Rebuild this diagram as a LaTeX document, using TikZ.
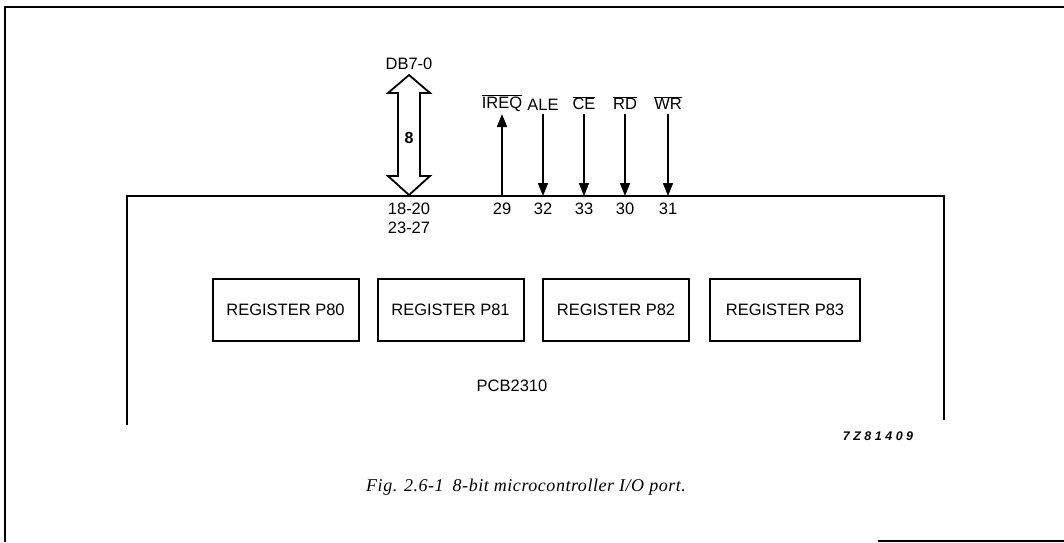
\documentclass[tikz,border=0pt]{standalone}
\usepackage{fontspec}
\setmainfont{Liberation Sans}
\newfontfamily\capfont{Liberation Serif}
\usetikzlibrary{arrows.meta}
\tikzset{
  frame/.style={line width=2.2pt},
  chip/.style={line width=2.6pt},
  regbox/.style={draw,line width=2pt,minimum width=146pt,minimum height=62pt,inner sep=0pt,font=\fontsize{16.5}{18}\selectfont},
  lbl/.style={font=\fontsize{16.5}{18}\selectfont,inner sep=0pt},
  sig/.style={line width=1.7pt,-{Triangle[length=13pt,width=10pt]}}
}
\newcommand{\ovl}[1]{$\overline{\mbox{#1}}$}
\begin{document}
\begin{tikzpicture}[x=1pt,y=-1pt]
\useasboundingbox (0,0) rectangle (1064,542);
% outer frame
\draw[frame] (1064,7) -- (5,7) -- (5,542);
\draw[frame] (878,541) -- (1064,541);
% chip outline
\draw[chip] (127,425) -- (127,196) -- (944,196) -- (944,420);
% registers
\node[regbox] (r0) at (285.5,309.5) {REGISTER P80};
\node[regbox] (r1) at (450.5,309.5) {REGISTER P81};
\node[regbox] (r2) at (616,309.5) {REGISTER P82};
\node[regbox,minimum width=150pt] (r3) at (785,309.5) {REGISTER P83};
\node[lbl] (chipname) at (512,386) {PCB2310};
\node[inner sep=0pt,font=\fontsize{12.5}{14}\selectfont\bfseries\itshape\addfontfeature{LetterSpace=28}] (code) at (878,436) {7Z81409};
% data bus double arrow
\draw[line width=1.8pt,fill=white,line join=miter]
  (409,75) -- (430,93) -- (420,93) -- (420,176) -- (430,176) -- (409,195)
  -- (388,176) -- (398,176) -- (398,93) -- (388,93) -- cycle;
\node[lbl] (db) at (409,64) {DB7-0};
\node[lbl,font=\fontsize{16}{18}\selectfont\bfseries] (w8) at (409,138) {8};
\node[lbl] (p1) at (409,209) {18-20};
\node[lbl] (p2) at (409,228) {23-27};
% control signals
\coordinate (ireqB) at (502,196);
\coordinate (ireqT) at (502,114);
\coordinate (aleT) at (543,114);
\coordinate (aleB) at (543,196);
\coordinate (ceT) at (584,114);
\coordinate (ceB) at (584,196);
\coordinate (rdT) at (625,114);
\coordinate (rdB) at (625,196);
\coordinate (wrT) at (668,114);
\coordinate (wrB) at (668,196);
\draw[sig] (ireqB) -- (ireqT);
\draw[sig] (aleT) -- (aleB);
\draw[sig] (ceT) -- (ceB);
\draw[sig] (rdT) -- (rdB);
\draw[sig] (wrT) -- (wrB);
\node[lbl] (lireq) at (502,103) {\ovl{IREQ}};
\node[lbl] (lale) at (543,105) {ALE};
\node[lbl] (lce) at (584,103) {\ovl{CE}};
\node[lbl] (lrd) at (625,103) {\ovl{RD}};
\node[lbl] (lwr) at (668,103) {\ovl{WR}};
\node[lbl] (n29) at (502,209) {29};
\node[lbl] (n32) at (543,209) {32};
\node[lbl] (n33) at (584,209) {33};
\node[lbl] (n30) at (625,209) {30};
\node[lbl] (n31) at (668,209) {31};
% caption
\node[inner sep=0pt,anchor=west,font=\capfont\itshape\fontsize{18}{20}\selectfont\addfontfeature{LetterSpace=3}] (cap) at (366,487) {Fig. 2.6-1\hspace{0.5em}8-bit microcontroller I/O port.};
\end{tikzpicture}
\end{document}
